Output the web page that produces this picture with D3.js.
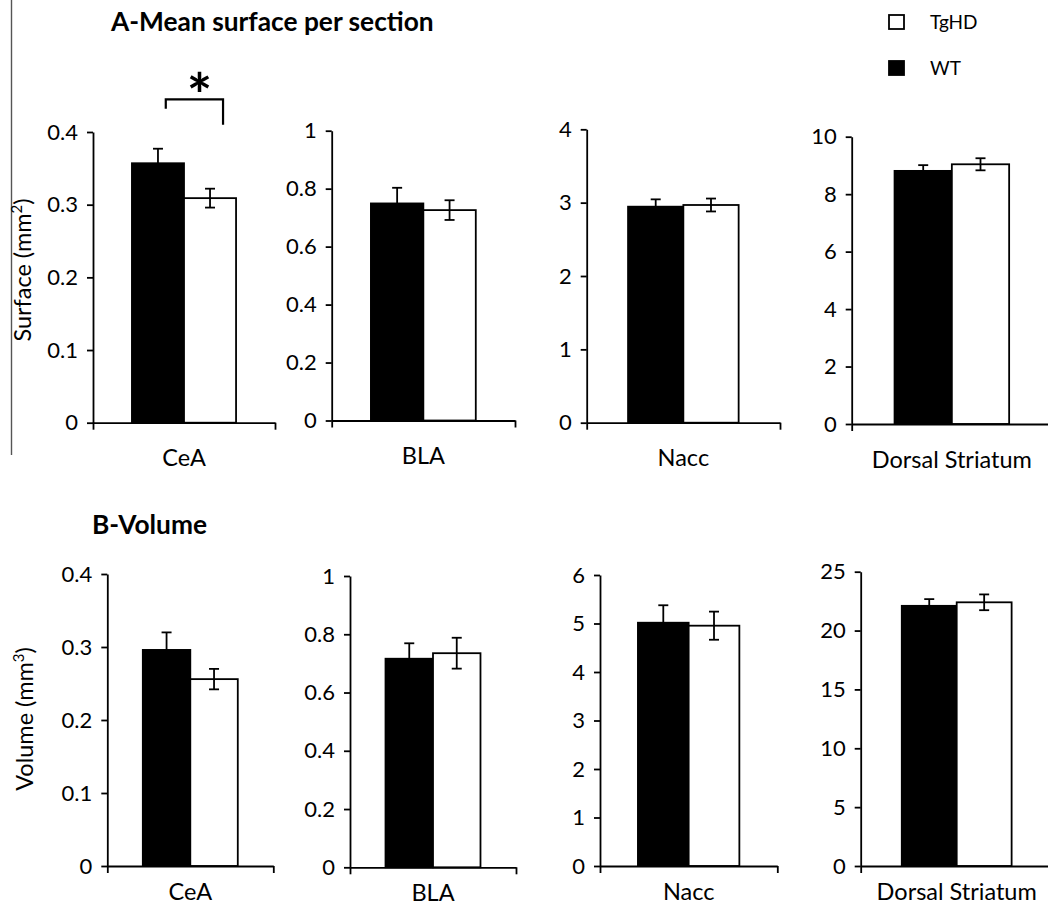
<!DOCTYPE html>
<html><head><meta charset="utf-8">
<script src="https://cdn.jsdelivr.net/npm/d3@7"></script>
<style>
body{margin:0;background:#fff}
svg{display:block}
text{font-family:Lato,"Open Sans",sans-serif;fill:#000}
</style>
</head><body>
<svg id="c" width="1048" height="905"></svg>
<script>
// ---------------- data ----------------
const regions = ["CeA", "BLA", "Nacc", "Dorsal Striatum"];
const groups = ["WT", "TgHD"];

const surfaceWT     = [0.357, 0.749, 2.945, 8.81];
const surfaceWTErr  = [0.020, 0.054, 0.100, 0.20];
const surfaceTg     = [0.309, 0.726, 2.968, 9.04];
const surfaceTgErr  = [0.013, 0.034, 0.088, 0.21];
const surfaceMax    = [0.4, 1, 4, 10];
const surfaceTicks  = [[0,0.1,0.2,0.3,0.4],[0,0.2,0.4,0.6,0.8,1],[0,1,2,3,4],[0,2,4,6,8,10]];

const volumeWT      = [0.296, 0.716, 5.016, 22.1];
const volumeWTErr   = [0.024, 0.053, 0.36, 0.57];
const volumeTg      = [0.256, 0.735, 4.955, 22.4];
const volumeTgErr   = [0.014, 0.053, 0.29, 0.67];
const volumeMax     = [0.4, 1, 6, 25];
const volumeTicks   = [[0,0.1,0.2,0.3,0.4],[0,0.2,0.4,0.6,0.8,1],[0,1,2,3,4,5,6],[0,5,10,15,20,25]];

const legendLabels  = ["TgHD", "WT"];
const panelTitles   = ["A-Mean surface per section", "B-Volume"];
const significance  = {panel: 0, label: "*"};

// ---------------- layout ----------------
const svg = d3.select("#c");
const rows = [
  { title: panelTitles[0], ylab: "Surface (mm", sup: "2",
    wt: surfaceWT, wtE: surfaceWTErr, tg: surfaceTg, tgE: surfaceTgErr, max: surfaceMax, ticks: surfaceTicks,
    x0: [93, 331.7, 586.7, 851.7], x1: [275, 515, 780, 1052],
    yTop: [132, 130.7, 129.3, 136.7], y0: [422.7, 420.5, 422.7, 424],
    labPad: 27, titleX: 111, titleY: 22, ylabX: 23, ylabY: 270 },
  { title: panelTitles[1], ylab: "Volume (mm", sup: "3",
    wt: volumeWT, wtE: volumeWTErr, tg: volumeTg, tgE: volumeTgErr, max: volumeMax, ticks: volumeTicks,
    x0: [107.3, 350, 600, 860.7], x1: [273.3, 516, 777.3, 1052.7],
    yTop: [574, 576, 575, 571.7], y0: [866, 867.3, 866, 866],
    labPad: 17, titleX: 92, titleY: 525, ylabX: 25, ylabY: 719 }
];

const fmt = d => String(d);
const SW = 1.8;

// left vertical rule
svg.append("line").attr("x1", 11.5).attr("x2", 11.5).attr("y1", 0).attr("y2", 455)
  .attr("stroke", "#555").attr("stroke-width", 1.4);

rows.forEach((row, ri) => {
  // title
  svg.append("text").attr("x", row.titleX).attr("y", row.titleY).attr("dy", "0.35em")
    .attr("font-weight", "bold").attr("font-size", 26.3).text(row.title);
  // y title
  const yt = svg.append("text")
    .attr("transform", `translate(${row.ylabX},${row.ylabY}) rotate(-90)`)
    .attr("text-anchor", "middle").attr("dy", "0.35em").attr("font-size", 23.5);
  yt.append("tspan").text(row.ylab);
  yt.append("tspan").attr("baseline-shift", "super").attr("font-size", 15).text(row.sup);
  yt.append("tspan").text(")");

  regions.forEach((reg, i) => {
    const g = svg.append("g");
    const y = d3.scaleLinear().domain([0, row.max[i]]).range([row.y0[i], row.yTop[i]]);
    const x = d3.scaleBand().domain([reg]).range([row.x0[i], row.x1[i]]).paddingInner(0).paddingOuter(0.374);
    const xs = d3.scaleBand().domain(groups).range([0, x.bandwidth()]);
    const data = [
      { g: "WT", v: row.wt[i], e: row.wtE[i], fill: "#000" },
      { g: "TgHD", v: row.tg[i], e: row.tgE[i], fill: "#fff" }
    ];

    // bars
    g.selectAll("rect.bar").data(data).join("rect").attr("class", "bar")
      .attr("x", d => x(reg) + xs(d.g))
      .attr("width", xs.bandwidth())
      .attr("y", d => y(d.v))
      .attr("height", d => y(0) - y(d.v))
      .attr("fill", d => d.fill).attr("stroke", "#000").attr("stroke-width", SW);

    // error bars
    const cx = d => x(reg) + xs(d.g) + xs.bandwidth() / 2;
    const eb = g.selectAll("g.err").data(data).join("g").attr("class", "err")
      .attr("stroke", "#000").attr("stroke-width", SW);
    eb.append("line").attr("x1", cx).attr("x2", cx)
      .attr("y1", d => y(d.v - d.e)).attr("y2", d => y(d.v + d.e));
    eb.append("line").attr("x1", d => cx(d) - 5).attr("x2", d => cx(d) + 5)
      .attr("y1", d => y(d.v + d.e)).attr("y2", d => y(d.v + d.e));
    eb.append("line").attr("x1", d => cx(d) - 5).attr("x2", d => cx(d) + 5)
      .attr("y1", d => y(d.v - d.e)).attr("y2", d => y(d.v - d.e));

    // y axis
    const ya = g.append("g").attr("transform", `translate(${row.x0[i]},0)`)
      .call(d3.axisLeft(y).tickValues(row.ticks[i]).tickFormat(fmt).tickSize(6).tickSizeOuter(0).tickPadding(9));
    ya.selectAll("path,line").attr("stroke", "#000").attr("stroke-width", SW);
    ya.selectAll("text").attr("font-size", 22).attr("font-family", "Lato, sans-serif").attr("fill", "#000");

    // x axis (boundary ticks)
    const xl = d3.scaleLinear().domain([0, 1]).range([row.x0[i], row.x1[i]]);
    const xa = g.append("g").attr("transform", `translate(0,${row.y0[i]})`)
      .call(d3.axisBottom(xl).tickValues([0, 1]).tickFormat("").tickSize(7).tickSizeOuter(0));
    xa.selectAll("path,line").attr("stroke", "#000").attr("stroke-width", SW);

    // category label
    const xc = g.append("g").attr("transform", `translate(0,${row.y0[i]})`)
      .call(d3.axisBottom(x).tickSize(0).tickPadding(row.labPad));
    xc.select(".domain").remove();
    xc.selectAll("text").attr("font-size", 23.5).attr("font-family", "Lato, sans-serif").attr("fill", "#000");

    // significance bracket
    if (ri === significance.panel && i === 0) {
      const lx = x(reg) + xs("WT") + xs.bandwidth() * 0.65;
      const rx = x(reg) + xs("TgHD") + xs.bandwidth() * 0.75;
      g.append("path")
        .attr("d", `M${lx},${y(0.432)}V${y(0.445)}H${rx}V${y(0.410)}`)
        .attr("fill", "none").attr("stroke", "#000").attr("stroke-width", 2.2);
      g.append("text").attr("x", (lx + rx) / 2 + 5).attr("y", y(0.445) + 18)
        .attr("text-anchor", "middle").attr("font-weight", "bold")
        .attr("font-family", "DejaVu Sans, sans-serif").attr("font-size", 60).text(significance.label);
    }
  });
});

// legend
const leg = svg.append("g");
const legY = d3.scalePoint().domain(legendLabels).range([22, 68]);
leg.selectAll("rect").data(legendLabels).join("rect")
  .attr("x", 889).attr("y", d => legY(d) - 7).attr("width", 15).attr("height", 14)
  .attr("fill", d => d === "WT" ? "#000" : "#fff").attr("stroke", "#000").attr("stroke-width", 1.8);
leg.selectAll("text").data(legendLabels).join("text")
  .attr("x", 930).attr("y", legY).attr("dy", "0.35em").attr("font-size", 19).text(d => d);
</script>
</body></html>
